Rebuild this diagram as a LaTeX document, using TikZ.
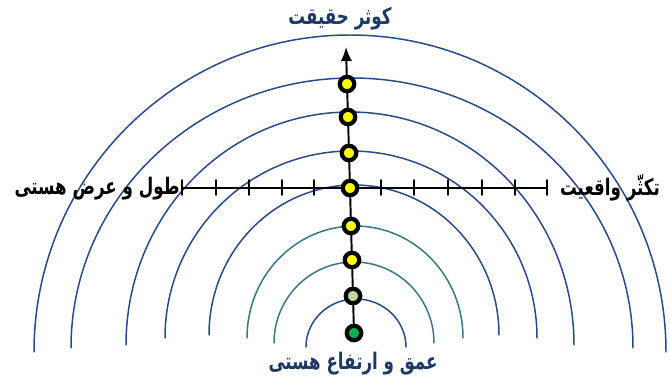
\documentclass[tikz,border=0pt]{standalone}
\usepackage{fontspec}
\usetikzlibrary{arrows.meta}
\TeXXeTstate=1
\newfontfamily\arabicfont[Script=Arabic]{DejaVu Sans}
\definecolor{arcnavy}{HTML}{2A4A85}
\definecolor{arcteal}{HTML}{3D7580}
\definecolor{labnavy}{HTML}{1F3864}
\definecolor{dotyellow}{HTML}{FFFF00}
\definecolor{dotpale}{HTML}{C4D79B}
\definecolor{dotgreen}{HTML}{00B050}
\tikzset{
  dot/.style={circle,draw=black,line width=2.4pt,minimum size=.29cm,inner sep=0pt},
  ring/.style={line width=.85pt},
  axisline/.style={line width=1.1pt},
  lab/.style={font=\arabicfont\bfseries\fontsize{10}{12}\selectfont,inner sep=1pt,
    xscale=.95,yscale=1.3,transform shape}
}

\begin{document}
\begin{tikzpicture}[x=.02cm,y=-.02cm,line cap=round,line join=round]
    \useasboundingbox (0,0) rectangle (670,385);

    % half rings, outside in: centre x/y, x radius, y radius, colour
    \foreach \cx/\cy/\rx/\ry/\col in {350/352/316/317/arcnavy,352/348/281/270/arcnavy,
        350/345/224/233/arcnavy,351/338/186/187/arcnavy,354/335/145/150/arcnavy,
        355/338/108/112/arcteal,354/343/80/81/arcteal,356/347/50/48/arcnavy}
      \draw[ring,\col] (\cx-\rx,\cy) arc[start angle=180,end angle=360,x radius=\rx,y radius=\ry];

    % dots on the vertical axis, top to bottom
    \node[dot,fill=dotyellow] (d1) at (347,84) {};
    \node[dot,fill=dotyellow] (d2) at (348,117) {};
    \node[dot,fill=dotyellow] (d3) at (349,153) {};
    \node[dot,fill=dotyellow] (d4) at (350,188) {};
    \node[dot,fill=dotyellow] (d5) at (351,226) {};
    \node[dot,fill=dotyellow] (d6) at (352,260) {};
    \node[dot,fill=dotpale] (d7) at (353,296) {};
    \node[dot,fill=dotgreen] (d8) at (354,333) {};
    \coordinate (top) at (346,47);
    \coordinate (axl) at (182,188);
    \coordinate (axr) at (547,188);

    \draw[axisline] (d8) -- (d7) -- (d6) -- (d5) -- (d4) -- (d3) -- (d2) -- (d1);
    \draw[axisline,-{Latex[length=8pt,width=6.5pt]}] (d1) -- (top);
    \draw[axisline] (axl) -- (d4) -- (axr);
    \foreach \x in {182,216,249,282,314,381,414,448,482,515,547}
      \draw[axisline] (\x,180) -- (\x,195);

    \node[lab,text=labnavy] (tlab) at (340,19) {\beginR کوثر حقیقت\endR};
    \node[lab,text=black] (llab) at (97,189) {\beginR طول و عرض هستی\endR};
    \node[lab,text=black] (rlab) at (610,188) {\beginR تکثّر واقعیت\endR};
    \node[lab,text=labnavy] (blab) at (353,364) {\beginR عمق و ارتفاع هستی\endR};
  \end{tikzpicture}
\end{document}
